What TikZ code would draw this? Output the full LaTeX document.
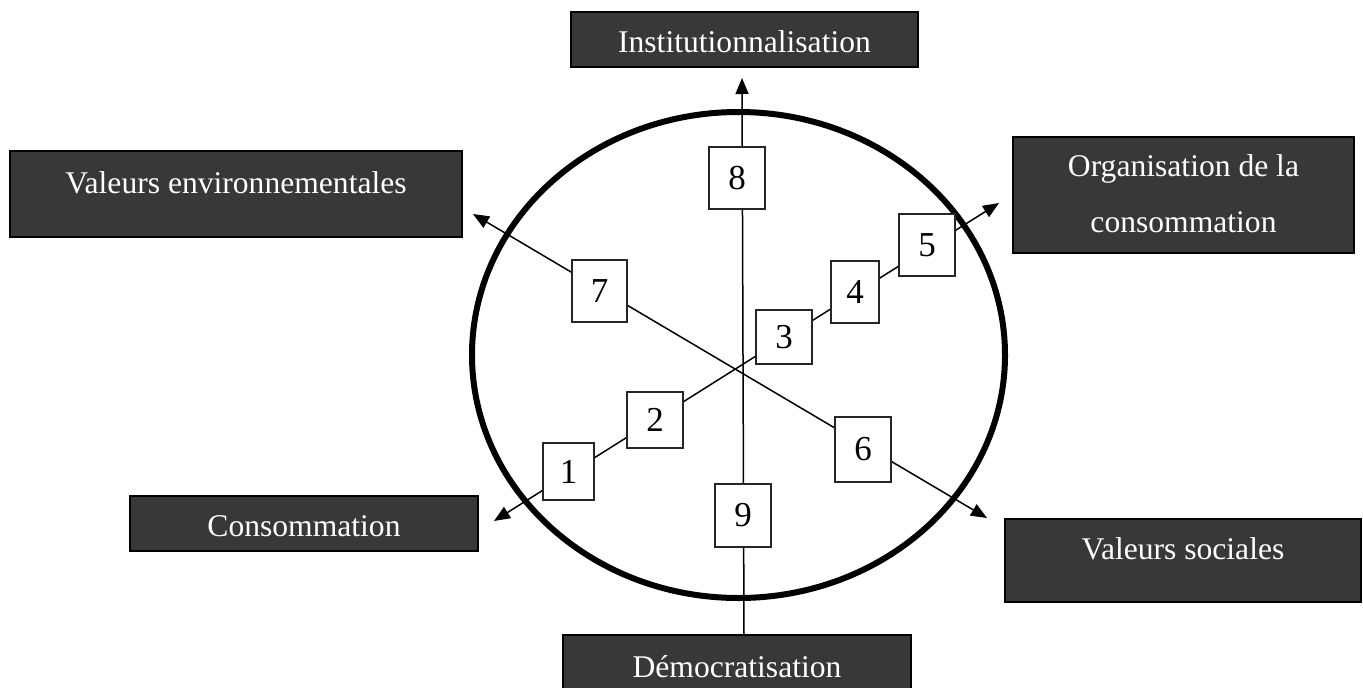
\documentclass[tikz,border=0pt]{standalone}
\usepackage{fontspec}
\setmainfont{Liberation Serif}
\usetikzlibrary{arrows.meta}
\definecolor{boxgray}{RGB}{58,56,54}
\begin{document}
\begin{tikzpicture}[x=1pt,y=-1pt,
 darkbox/.style={draw=black,line width=2pt,fill=boxgray,inner sep=0pt},
 darktext/.style={text=white,font=\fontsize{31.6}{38}\selectfont,anchor=base,inner sep=0pt},
 numbox/.style={draw=black!85,line width=1.3pt,fill=white,inner sep=0pt,font=\fontsize{35}{40}\selectfont},
 conn/.style={line width=1.5pt,black},
 tipend/.style={-{Triangle[length=16pt,width=13pt]}},
 tipboth/.style={{Triangle[length=16pt,width=13pt]}-{Triangle[length=16pt,width=13pt]}}
]
\clip (0,0) rectangle (1363,688);
\fill[white] (0,0) rectangle (1363,688);

% dark label boxes
\node[darkbox,minimum width=347,minimum height=55] (inst) at (744.5,39.5) {};
\node[darktext] (insttext) at (744.5,52) {Institutionnalisation};
\node[darkbox,minimum width=452,minimum height=86] (valenv) at (236,194) {};
\node[darktext] (valenvtext) at (236,193) {Valeurs environnementales};
\node[darkbox,minimum width=348,minimum height=55] (cons) at (304,523.5) {};
\node[darktext] (constext) at (304,536) {Consommation};
\node[darkbox,minimum width=348,minimum height=62] (democ) at (737,666) {};
\node[darktext] (democtext) at (737,677) {Démocratisation};
\node[darkbox,minimum width=341,minimum height=116] (org) at (1183.5,195) {};
\node[darktext] (orgtext1) at (1183.5,176) {Organisation de la};
\node[darktext] (orgtext2) at (1183.5,232) {consommation};
\node[darkbox,minimum width=356,minimum height=83] (valsoc) at (1183,560.5) {};
\node[darktext] (valsoctext) at (1183,559) {Valeurs sociales};

% connector ends
\coordinate (e1) at (494,521);
\coordinate (e5) at (999,203);
\coordinate (e7) at (473,214);
\coordinate (e6) at (987,518);
\coordinate (e8) at (742,78);
\coordinate (e9) at (744,636);

\draw[conn,tipboth] (e1) -- (e5);
\draw[conn,tipboth] (e7) -- (e6);
\draw[conn,tipend] (e9) -- (e8);

% circle
\draw[line width=6pt] (738.5,355) ellipse [x radius=266.5, y radius=243];

% numbered boxes
\node[numbox,minimum width=51,minimum height=57] (n1) at (568.5,471.5) {1};
\node[numbox,minimum width=56,minimum height=56] (n2) at (655,420) {2};
\node[numbox,minimum width=56,minimum height=54] (n3) at (784,337) {3};
\node[numbox,minimum width=48,minimum height=62] (n4) at (855,292) {4};
\node[numbox,minimum width=56,minimum height=62] (n5) at (927,245) {5};
\node[numbox,minimum width=56,minimum height=65] (n6) at (863,449.5) {6};
\node[numbox,minimum width=55,minimum height=62] (n7) at (599.5,291) {7};
\node[numbox,minimum width=56,minimum height=62] (n8) at (737,178) {8};
\node[numbox,minimum width=56,minimum height=63] (n9) at (743,515.5) {9};
\end{tikzpicture}
\end{document}
